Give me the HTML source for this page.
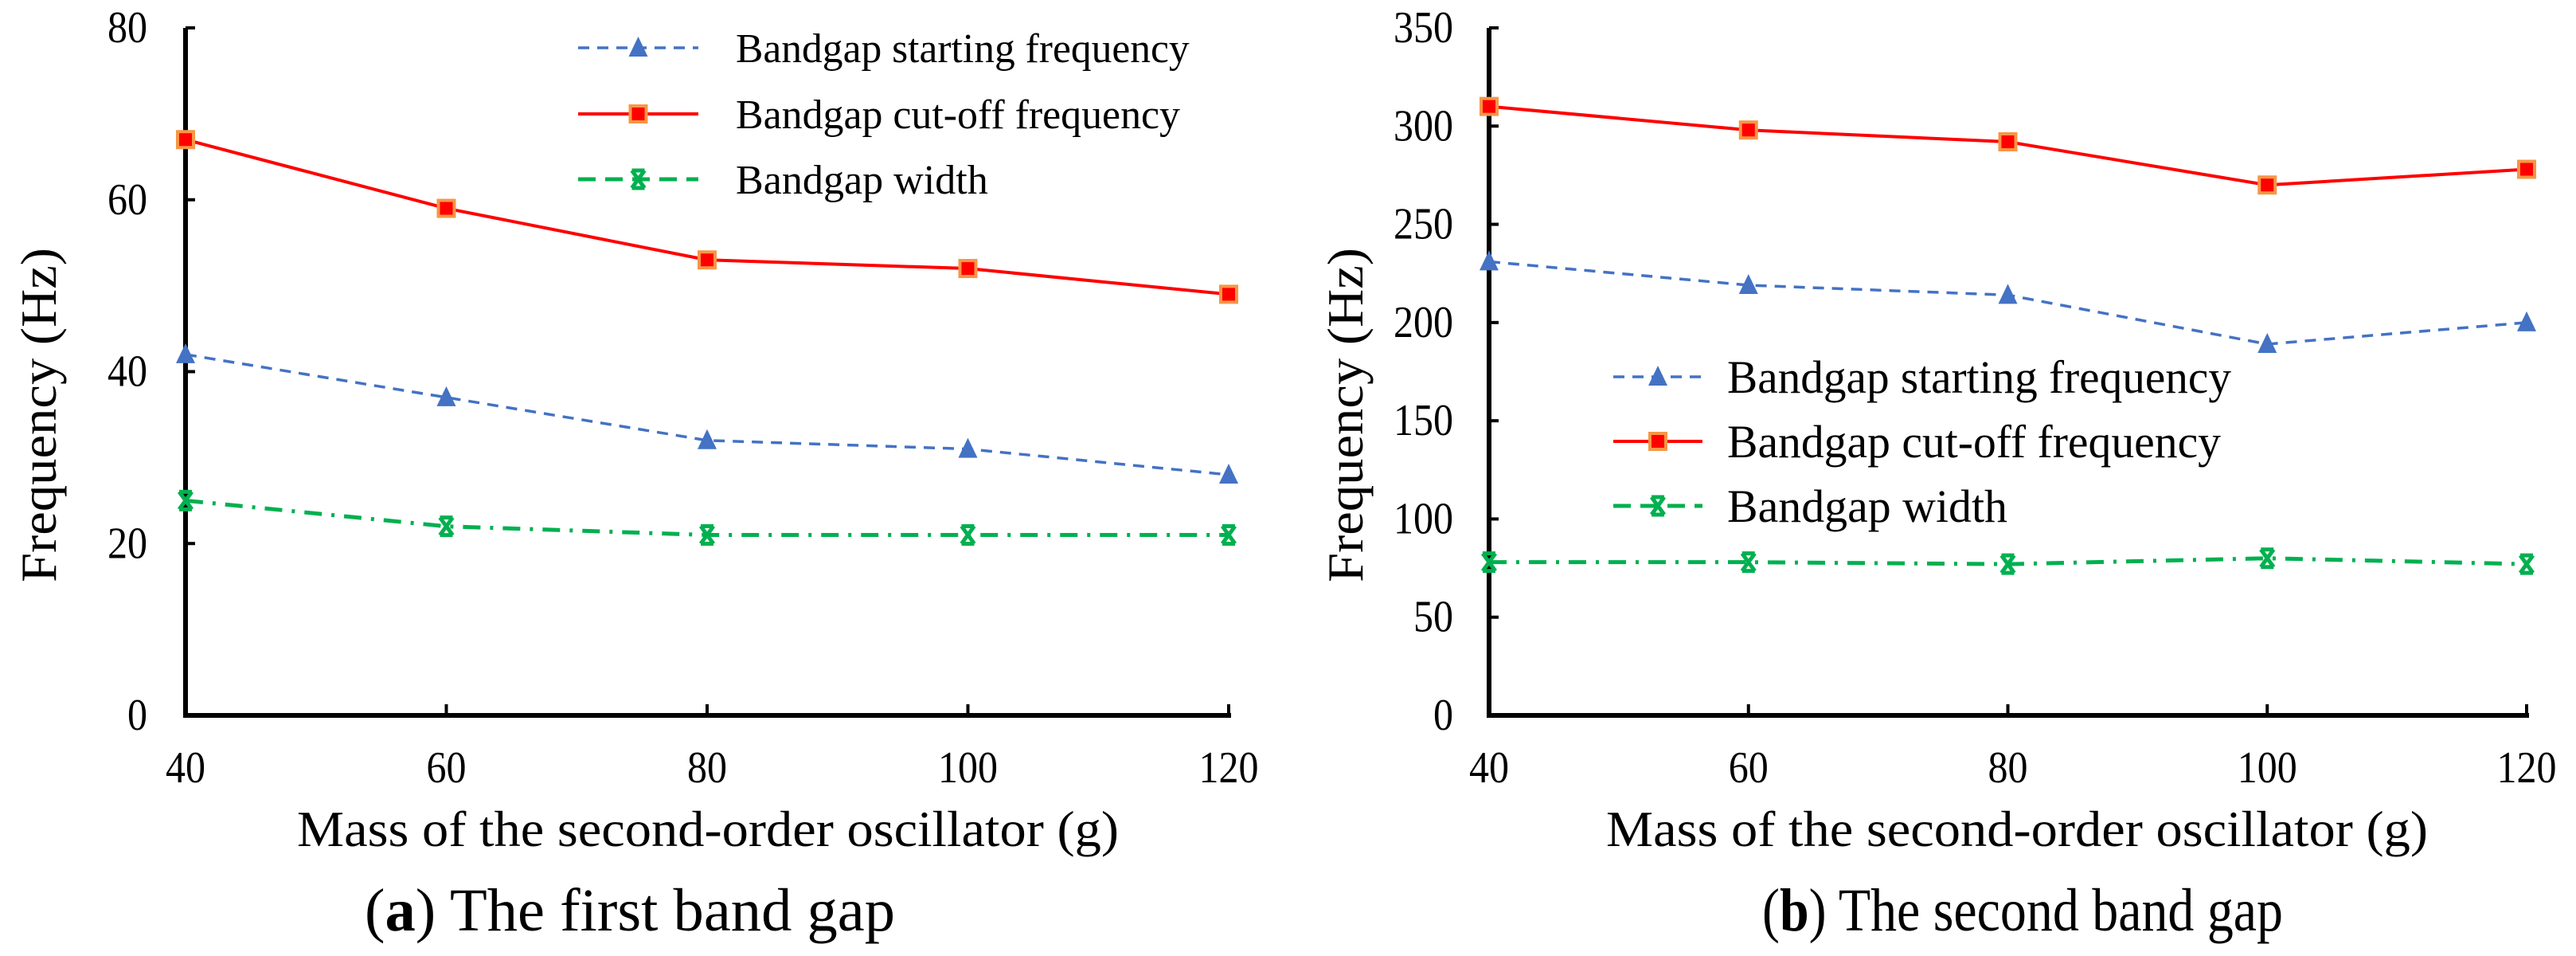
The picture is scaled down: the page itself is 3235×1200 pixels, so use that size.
<!DOCTYPE html>
<html><head><meta charset="utf-8"><style>
html,body{margin:0;padding:0;background:#fff;}
svg{display:block;font-family:"Liberation Serif",serif;}
</style></head><body>
<svg id="svg" width="3235" height="1200" viewBox="0 0 3235 1200" xmlns="http://www.w3.org/2000/svg"></svg>
<script>
const xCategories=[40,60,80,100,120];
const aStart=[42,37,32,31,28];
const aCut=[67,59,53,52,49];
const aWidth=[25,22,21,21,21];
const aTicks=[0,20,40,60,80];
const bStart=[231,219,214,189,200];
const bCut=[310,298,292,270,278];
const bWidth=[78,78,77,80,77];
const bTicks=[0,50,100,150,200,250,300,350];
const seriesNames=["Bandgap starting frequency","Bandgap cut-off frequency","Bandgap width"];

const NS="http://www.w3.org/2000/svg";
const svg=document.getElementById('svg');
function el(tag,attrs,parent){const e=document.createElementNS(NS,tag);for(const k in attrs)e.setAttribute(k,attrs[k]);(parent||svg).appendChild(e);return e;}

function marker(g,type,x,y){
  if(type===0){const m=el('polygon',{points:`${x},${y-14} ${x-12},${y+11} ${x+12},${y+11}`,fill:'#4472c4'},g);}
  else if(type===1){const m=el('rect',{x:x-10,y:y-10,width:20,height:20,fill:'#ff0000',stroke:'#f79646','stroke-width':4},g);}
  else{const m=el('path',{d:`M${x-8},${y-11}L${x+8},${y+11}M${x+8},${y-11}L${x-8},${y+11}M${x-8},${y-11}H${x+8}M${x-8},${y+11}H${x+8}`,stroke:'#00b050','stroke-width':5,fill:'none'},g);}
}
const styles=[{c:'#4472c4',d:'14 10',w:3.5},{c:'#ff0000',d:'',w:4},{c:'#00b050',d:'22 12 4 12',w:5}];

function txt(g,attrs,s,name,len){
  const t=el('text',Object.assign({textLength:len,lengthAdjust:'spacingAndGlyphs'},attrs),g);
  t.textContent=s;
  
  return t;
}

function chart(cfg){
  const g=el('g',{});
  
  
  const X=v=>cfg.x0+(v-40)/(120-40)*(cfg.x1-cfg.x0);
  const Y=v=>cfg.y0-(v/cfg.max)*(cfg.y0-cfg.y1);
  const ya=el('line',{x1:cfg.x0,y1:cfg.y1,x2:cfg.x0,y2:cfg.y0+3,stroke:'#000','stroke-width':6},g);
  
  const xa=el('line',{x1:cfg.x0-3,y1:cfg.y0,x2:cfg.x1+3,y2:cfg.y0,stroke:'#000','stroke-width':6},g);
  
  cfg.ticks.forEach(t=>{
    el('line',{x1:cfg.x0,y1:Y(t),x2:cfg.x0+12,y2:Y(t),stroke:'#000','stroke-width':4},g);
    const s=String(t);
    txt(g,{x:cfg.ylx-s.length*25,y:Y(t)+18,'font-size':56},s,'y-tick-label',s.length*25);
  });
  xCategories.forEach(c=>{
    el('line',{x1:X(c),y1:cfg.y0,x2:X(c),y2:cfg.y0-14,stroke:'#000','stroke-width':4},g);
    const s=String(c);
    txt(g,{x:X(c)-s.length*12.5,y:982,'font-size':56},s,'x-tick-label',s.length*25);
  });
  txt(g,{x:cfg.xtc-516,y:1062,'font-size':64},'Mass of the second-order  oscillator  (g)','x-axis-title',1032);
  const yt=el('text',{x:0,y:0,'font-size':64,textLength:420,lengthAdjust:'spacingAndGlyphs',transform:`translate(${cfg.ytx+22},${521+210}) rotate(-90)`},g);
  yt.textContent='Frequency  (Hz)';
  
  const cap=el('text',{x:cfg.capc-cfg.capw/2,y:1168,'font-size':76,textLength:cfg.capw,lengthAdjust:'spacingAndGlyphs'},g);
  cap.innerHTML='(<tspan font-weight="bold">'+cfg.letter+'</tspan>) '+cfg.caption;
  
  cfg.series.forEach((s,i)=>{
    const st=styles[i];
    const p=el('polyline',{points:s.map((v,j)=>X(xCategories[j])+','+Y(v)).join(' '),fill:'none',stroke:st.c,'stroke-width':st.w,'stroke-dasharray':st.d},g);
    
    s.forEach((v,j)=>marker(g,i,X(xCategories[j]),Y(v)));
  });
  const lg=el('g',{},g);
  
  const lens=[633,620,352].map(v=>v*cfg.ls);
  seriesNames.forEach((n,i)=>{
    const st=styles[i];const y=cfg.ly[i];
    const e=el('g',{},lg);
    
    el('line',{x1:cfg.lx0,y1:y,x2:cfg.lx1,y2:y,stroke:st.c,'stroke-width':st.w,'stroke-dasharray':i===2?'22 12':st.d},e);
    marker(e,i,(cfg.lx0+cfg.lx1)/2,y);
    const t=el('text',{x:cfg.tx,y:y+20*cfg.ls,'font-size':58*cfg.ls,textLength:lens[i],lengthAdjust:'spacingAndGlyphs'},e);
    t.textContent=n;
  });
}
chart({name:'chart-first-band-gap',x0:233,x1:1543,y0:898,y1:35,max:80,ticks:aTicks,series:[aStart,aCut,aWidth],ylx:185,ytx:48,xtc:889,capc:791,capw:666,letter:'a',caption:'The first band gap',lx0:726,lx1:877,tx:924,ly:[60,143,225],ls:0.9});
chart({name:'chart-second-band-gap',x0:1870,x1:3173,y0:898,y1:35,max:350,ticks:bTicks,series:[bStart,bCut,bWidth],ylx:1825,ytx:1689,xtc:2533,capc:2540,capw:654,letter:'b',caption:'The second band gap',lx0:2026,lx1:2138,tx:2169,ly:[473,554,635],ls:1});
</script>
</body></html>
